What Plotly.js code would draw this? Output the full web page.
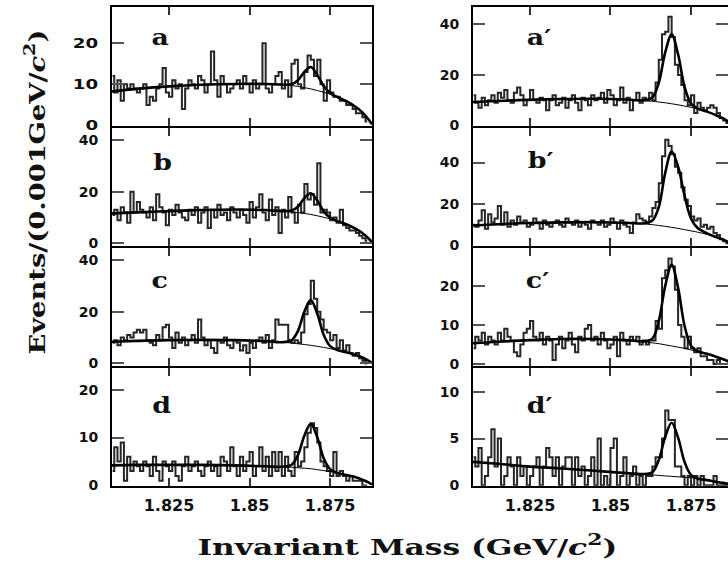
<!DOCTYPE html>
<html><head><meta charset="utf-8">
<script src="https://cdn.plot.ly/plotly-3.0.1.min.js"></script>
<style>html,body{margin:0;padding:0;background:#fff}</style>
</head><body><div id="chart" style="width:728px;height:569px"></div>
<script>
// histogram binning (GeV/c^2)
const binStart = 1.8075, binWidth = 0.001, nBins = 80;
const tickVals = [1.825, 1.85, 1.875];
const tickText = ["1.825", "1.85", "1.875"];
const panelLabels = ["a", "b", "c", "d", "a\u2032", "b\u2032", "c\u2032", "d\u2032"];

// events per bin
const histA = [12,8,11,6,10,9,10,9,8,9, 10,5,7,6,9,10,14,8,7,11, 9,10,4,9,11,10,9,12,11,8,
  10,18,11,7,12,10,8,9,10,11, 9,12,10,8,11,9,10,20,9,8, 10,12,13,9,11,7,15,16,10,9,
  13,17,16,12,16,10,6,11,8,7, 7,6,6,5,5,4,3,3,2,1];
const histB = [11,13,9,14,12,8,20,12,16,13, 12,10,14,9,19,14,12,7,13,11, 15,12,10,9,13,11,14,8,12,14,
  6,13,10,15,11,12,9,14,12,10, 13,11,8,16,10,14,19,12,9,17, 11,14,4,13,10,18,12,8,15,12,
  23,17,19,15,31,12,13,12,9,10, 8,13,7,6,5,5,4,3,2,1];
const histC = [8,9,7,10,9,11,10,12,13,12, 13,9,8,7,11,9,14,15,10,6, 12,8,10,7,9,11,8,17,10,7,
  9,6,4,9,8,10,7,6,9,8, 5,7,4,8,6,9,10,8,11,6, 9,17,15,15,15,9,8,9,8,12,
  19,23,32,25,20,17,13,12,9,11, 6,9,5,7,4,3,4,2,1,0];
const histD = [3,8,5,9,1,6,3,5,4,3, 5,4,2,6,3,1,5,4,3,5, 2,1,4,6,3,4,5,3,2,4,
  5,3,4,2,6,5,3,8,4,2, 6,3,5,7,2,4,8,3,6,2, 7,3,7,2,6,3,2,7,4,5,
  8,11,13,12,9,5,4,3,2,7, 2,3,2,1,2,1,1,1,0,0];
const histAp = [12,9,7,11,8,10,12,9,13,11, 14,10,9,13,15,12,8,10,14,10, 9,11,10,6,10,12,8,9,11,7,
  10,12,9,6,11,10,8,12,10,11, 13,9,14,12,8,10,15,9,11,6, 10,13,9,11,10,13,10,17,26,36,
  37,43,35,24,20,16,10,8,12,5, 9,7,6,7,8,7,5,3,2,1];
const histBp = [10,9,12,17,8,15,11,13,19,10, 16,9,12,10,14,11,12,9,10,13, 11,8,12,10,9,11,12,10,9,13,
  11,10,12,9,11,10,8,12,11,10, 12,9,10,13,11,8,12,10,9,6, 11,15,13,12,11,14,18,21,30,43,
  51,48,44,38,35,28,22,19,14,12, 13,9,10,8,9,6,5,3,2,1];
const histCp = [4,7,6,8,5,7,6,5,8,6, 9,7,6,3,2,5,8,9,11,7, 6,8,5,7,6,1,5,7,4,6,
  8,5,3,7,6,9,10,6,7,5, 8,6,4,5,7,2,8,6,5,7, 6,7,5,6,5,6,6,11,9,22,
  24,27,25,19,10,7,4,7,4,3, 4,2,2,1,1,0,1,0,0,0];
const histDp = [3,2,4,0,1,3,6,2,5,0, 1,3,2,0,3,1,2,0,1,2, 3,0,2,4,3,1,3,0,2,3,
  3,0,3,1,2,0,1,3,0,5, 0,1,0,4,5,0,1,3,0,1, 2,0,1,0,1,1,2,3,3,5,
  8,7,7,2,2,1,0,1,0,1, 0,1,0,0,0,1,0,0,0,0];

const fitX = [1.8073,1.815,1.825,1.835,1.845,1.855,1.860,1.863,1.865,1.867,1.869,1.871,1.873,1.875,1.877,1.880,1.883,1.885,1.887,1.888];
const bgA  = [8.3,8.9,9.5,9.9,10.1,10.1,9.9,9.7,9.5,9.2,8.9,8.5,8.1,7.6,7.0,5.9,4.5,3.2,1.4,0.3];
const totA = [8.3,8.9,9.5,9.9,10.1,10.1,9.95,10.0,11.0,13.0,14.2,12.3,9.6,7.9,7.0,5.9,4.5,3.2,1.4,0.3];
const bgB  = [11.6,12.0,12.5,12.9,13.1,12.9,12.5,12.2,11.9,11.6,11.2,10.7,10.1,9.5,8.7,7.4,5.6,4.0,1.8,0.4];
const totB = [11.6,12.0,12.5,12.9,13.1,12.9,12.5,12.7,14.2,17.5,19.4,16.6,12.4,10.0,8.7,7.4,5.6,4.0,1.8,0.4];
const bgC  = [8.4,8.7,9.0,9.1,9.0,8.6,8.2,7.9,7.6,7.3,7.0,6.6,6.2,5.7,5.2,4.3,3.2,2.3,1.0,0.2];
const totC = [8.4,8.7,9.0,9.1,9.0,8.6,8.2,8.9,12.5,20.0,24.5,19.3,11.1,6.7,5.3,4.3,3.2,2.3,1.0,0.2];
const bgD  = [4.2,4.3,4.3,4.3,4.2,4.0,3.9,3.8,3.7,3.6,3.5,3.3,3.1,2.9,2.6,2.2,1.7,1.2,0.6,0.2];
const totD = [4.2,4.3,4.3,4.3,4.2,4.0,3.9,4.3,6.3,10.4,12.9,10.1,5.7,3.4,2.65,2.2,1.7,1.2,0.6,0.2];
const bgAp  = [9.3,9.7,10.2,10.5,10.6,10.3,9.9,9.6,9.3,9.0,8.6,8.2,7.7,7.2,6.6,5.5,4.0,2.8,1.2,0.3];
const totAp = [9.3,9.7,10.2,10.5,10.6,10.3,9.95,11.1,16.9,28.9,36.0,28.1,15.3,8.7,6.75,5.5,4.0,2.8,1.2,0.3];
const bgBp  = [9.6,10.2,10.8,11.1,11.2,10.9,10.4,10.0,9.6,9.2,8.7,8.2,7.6,7.0,6.4,5.3,3.9,2.8,1.2,0.3];
const totBp = [9.6,10.2,10.8,11.1,11.2,10.9,10.6,12.0,18.5,35.0,45.3,38.0,24.0,13.0,8.5,5.8,3.9,2.8,1.2,0.3];
const bgCp  = [5.3,5.7,6.1,6.4,6.4,6.1,5.7,5.4,5.2,4.9,4.6,4.3,4.0,3.6,3.2,2.6,1.8,1.2,0.5,0.1];
const totCp = [5.3,5.7,6.1,6.4,6.4,6.1,5.8,6.5,11.0,20.0,25.4,19.5,9.8,4.7,3.3,2.6,1.8,1.2,0.5,0.1];
const bgDp  = [2.5,2.3,2.0,1.8,1.55,1.3,1.2,1.1,1.05,1.0,0.95,0.9,0.85,0.8,0.7,0.55,0.35,0.25,0.1,0];
const totDp = [2.5,2.3,2.0,1.8,1.55,1.3,1.2,1.4,2.7,5.2,6.7,5.1,2.5,1.1,0.72,0.55,0.35,0.25,0.1,0];

const yTicks = [[0,10,20],[0,20,40],[0,20,40],[0,10,20],[0,20,40],[0,20,40],[0,10,20],[0,5,10]];

const hists = [histA,histB,histC,histD,histAp,histBp,histCp,histDp];
const bgs = [bgA,bgB,bgC,bgD,bgAp,bgBp,bgCp,bgDp];
const tots = [totA,totB,totC,totD,totAp,totBp,totCp,totDp];

// ---------- layout / style ----------
const W = 728, H = 569;
const xDomL = [112/W, 372/W], xDomR = [473/W, 1];
const rowPx = [[7,125.7],[127.7,245.7],[247.7,365.7],[367.7,485.7]];
const yRanges = [[-0.05,28.8],[-0.9,44.8],[-0.9,44.8],[-0.05,24.6],[-0.05,46.8],[-0.15,56.8],[-0.45,29.8],[-0.05,12.6]];
const labelPos = [[160,37],[162,162],[159,280],[161,405],[539,37],[540,160],[537,280],[539,405]];

const centers = [];
for (let i = 0; i < nBins; i++) centers.push(+(binStart + i*binWidth).toFixed(4));

const traces = [];
const layout = {
  width: W, height: H, margin: {l:0,r:0,t:0,b:0},
  paper_bgcolor: '#fff', plot_bgcolor: '#fff', showlegend: false,
  annotations: []
};
const tickFont = {family: 'DejaVu Sans', size: 14, color: '#111', weight: 'bold'};

for (let p = 0; p < 8; p++) {
  const n = p + 1, sx = n === 1 ? '' : n;
  const xa = 'x' + sx, ya = 'y' + sx;
  traces.push({x: centers, y: hists[p], xaxis: xa, yaxis: ya, type: 'scatter', mode: 'lines',
    line: {shape: 'hvh', color: '#262626', width: 2}, hoverinfo: 'skip'});
  traces.push({x: fitX, y: bgs[p], xaxis: xa, yaxis: ya, type: 'scatter', mode: 'lines',
    line: {shape: 'spline', color: '#000', width: 1}, hoverinfo: 'skip'});
  traces.push({x: fitX, y: tots[p], xaxis: xa, yaxis: ya, type: 'scatter', mode: 'lines',
    line: {shape: 'spline', color: '#000', width: 2.6}, hoverinfo: 'skip'});
  const col = p < 4 ? 0 : 1, row = p % 4;
  const [top, bot] = rowPx[row];
  layout['xaxis' + sx] = {
    domain: col ? xDomR : xDomL, range: col ? [1.8073, 1.8865] : [1.8073, 1.888],
    anchor: ya, showgrid: false, zeroline: false, showline: true, linecolor: '#000', linewidth: 2,
    mirror: 'ticks', ticks: 'inside', ticklen: 8, tickwidth: 2, tickcolor: '#333',
    tickvals: tickVals, ticktext: tickText, showticklabels: row === 3,
    tickfont: {family: 'DejaVu Sans', size: 16, color: '#111', weight: 'bold'}, ticklabelstandoff: 4
  };
  layout['yaxis' + sx] = {
    domain: [1 - bot/H, 1 - top/H], range: yRanges[p], anchor: xa,
    showgrid: false, zeroline: false, showline: true, linecolor: '#000', linewidth: 2,
    mirror: 'ticks', ticks: 'inside', ticklen: 12, tickwidth: 2, tickcolor: '#555',
    tickvals: yTicks[p], ticktext: yTicks[p].map(String), tickfont: tickFont, ticklabelstandoff: 9
  };
  layout.annotations.push({text: panelLabels[p], xref: 'paper', yref: 'paper',
    x: labelPos[p][0]/W, y: 1 - labelPos[p][1]/H, xanchor: 'center', yanchor: 'middle',
    showarrow: false, font: {family: 'DejaVu Serif', size: 22, color: '#111', weight: 'bold'}});
}
layout.annotations.push({text: 'Events/(0.001GeV/<i>c</i><sup>2</sup>)', xref: 'paper', yref: 'paper',
  x: 35/W, y: 1 - 192/H, xanchor: 'center', yanchor: 'middle', textangle: -90, showarrow: false,
  font: {family: 'DejaVu Serif', size: 23, color: '#111', weight: 'bold'}});
layout.annotations.push({text: 'Invariant Mass (GeV/<i>c</i><sup>2</sup>)', xref: 'paper', yref: 'paper',
  x: 407/W, y: 1 - 545/H, xanchor: 'center', yanchor: 'middle', showarrow: false,
  font: {family: 'DejaVu Serif', size: 23, color: '#111', weight: 'bold'}});

// widen a text element horizontally (the reference typeface is an extended face)
function widen(el, s, anchor) {
  const b = el.getBBox();
  const cx = anchor === 'end' ? b.x + b.width : b.x + b.width / 2;
  const prev = el.getAttribute('transform') || '';
  el.setAttribute('transform', prev + ` translate(${cx},0) scale(${s},1) translate(${-cx},0)`);
}

Plotly.newPlot('chart', traces, layout, {staticPlot: true, displayModeBar: false}).then(gd => {
  try {
    gd.querySelectorAll('g.annotation').forEach(g => {
      const idx = +g.getAttribute('data-index');
      const t = g.querySelector('text.annotation-text');
      if (!t) return;
      if (idx < 8) widen(t, 1.22);
      else if (idx === 8) widen(t, 325 / t.getBBox().width);
      else widen(t, 420 / t.getBBox().width);
    });
    gd.querySelectorAll('g.ytick text').forEach(t => widen(t, 1.3, 'end'));
    gd.querySelectorAll('g.xtick text').forEach(t => widen(t, 1.12));
  } catch (e) {}
});
</script></body></html>
